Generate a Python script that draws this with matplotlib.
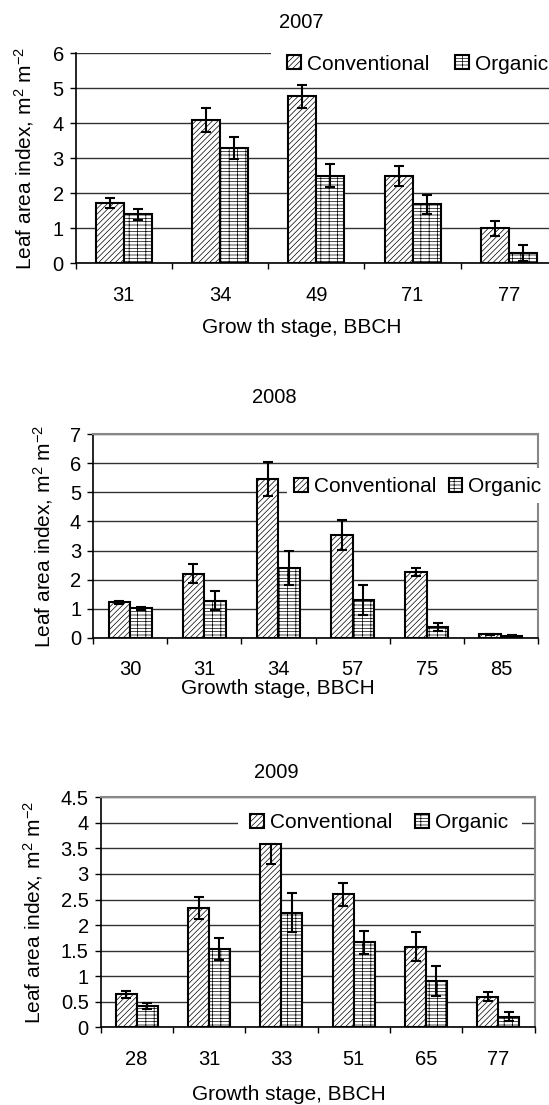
#! -*- coding: utf-8 -*-

#---------------------------------
# モジュールのインポート
#---------------------------------
import numpy as np
import matplotlib
matplotlib.use('Agg')
import matplotlib.pyplot as plt
from matplotlib.patches import Rectangle

#---------------------------------
# データ
#---------------------------------
stages_2007 = ['31', '34', '49', '71', '77']
conv_2007 = [1.72, 4.10, 4.77, 2.50, 1.00]
conv_err_2007 = [0.15, 0.34, 0.32, 0.28, 0.22]
org_2007 = [1.40, 3.29, 2.50, 1.68, 0.29]
org_err_2007 = [0.16, 0.32, 0.33, 0.28, 0.23]

stages_2008 = ['30', '31', '34', '57', '75', '85']
conv_2008 = [1.22, 2.20, 5.45, 3.54, 2.26, 0.12]
conv_err_2008 = [0.05, 0.33, 0.59, 0.52, 0.14, 0.02]
org_2008 = [1.01, 1.27, 2.41, 1.30, 0.36, 0.07]
org_err_2008 = [0.05, 0.33, 0.58, 0.52, 0.13, 0.02]

stages_2009 = ['28', '31', '33', '51', '65', '77']
conv_2009 = [0.65, 2.33, 3.58, 2.60, 1.58, 0.60]
conv_err_lo_2009 = [0.07, 0.22, 0.38, 0.22, 0.29, 0.09]
conv_err_hi_2009 = [0.07, 0.22, 0.00, 0.22, 0.29, 0.09]
org_2009 = [0.42, 1.53, 2.24, 1.66, 0.91, 0.21]
org_err_2009 = [0.06, 0.22, 0.38, 0.23, 0.29, 0.09]

#---------------------------------
# 定数定義
#---------------------------------
W = 549
H = 1105
FS_TICK = 14.5
FS_LABEL = 15
FS_TITLE = 14.5
FS_LEGEND = 15

plt.rcParams['font.family'] = ['Liberation Sans', 'DejaVu Sans']
plt.rcParams['mathtext.fontset'] = 'custom'
plt.rcParams['mathtext.rm'] = 'Liberation Sans'
plt.rcParams['mathtext.it'] = 'Liberation Sans:italic'
plt.rcParams['hatch.linewidth'] = 0.5


#---------------------------------
# 関数
#---------------------------------
def px_rect(left, top, right, bottom):
	# ピクセル座標 -> figure座標
	return [left / W, 1 - bottom / H, (right - left) / W, (bottom - top) / H]


def draw_panel(fig, rect, stages, conv, conv_err, org, org_err, ymax, ystep, frame,
			title, title_xy, xlabel, xlabel_xy, ylabel_x, legend_box, legend_xy, colsp):
	ax = fig.add_axes(px_rect(*rect))
	n = len(stages)
	x = np.arange(n) + 0.5
	w = 0.29

	ax.bar(x - w / 2, conv, w, facecolor='white', edgecolor='black', hatch='//////',
		linewidth=1.5, zorder=3, label='Conventional')
	ax.bar(x + w / 2, org, w, facecolor='white', edgecolor='black', hatch='-----||',
		linewidth=1.5, zorder=3, label='Organic')
	ax.errorbar(x - w / 2, conv, yerr=conv_err, fmt='none', ecolor='black',
		elinewidth=1.5, capsize=3.8, capthick=1.5, zorder=4)
	ax.errorbar(x + w / 2, org, yerr=org_err, fmt='none', ecolor='black',
		elinewidth=1.5, capsize=3.8, capthick=1.5, zorder=4)

	ax.set_xlim(0, n)
	ax.set_ylim(0, ymax)
	yt = np.arange(0, ymax + 1e-9, ystep)
	ax.set_yticks(yt)
	ax.set_yticklabels(['{:g}'.format(v) for v in yt], fontsize=FS_TICK)
	ax.set_xticks(np.arange(n + 1))
	ax.set_xticklabels([])
	ax.set_xticks(x, minor=True)
	ax.set_xticklabels(stages, minor=True, fontsize=FS_TICK)
	ax.tick_params(axis='x', which='major', direction='out', length=4, width=1, color='black')
	ax.tick_params(axis='x', which='minor', length=0, pad=16)
	ax.tick_params(axis='y', direction='out', length=4.5, width=1, pad=4)
	ax.grid(axis='y', color='#333333', linewidth=1.0, zorder=0)
	ax.set_axisbelow(True)

	ax.spines['left'].set_color('black')
	ax.spines['left'].set_linewidth(1.2)
	ax.spines['bottom'].set_color('black')
	ax.spines['bottom'].set_linewidth(1.2)
	if frame:
		for s in ['top', 'right']:
			ax.spines[s].set_color('#888888')
			ax.spines[s].set_linewidth(1.5)
	else:
		ax.spines['top'].set_visible(False)
		ax.spines['right'].set_visible(False)

	# 凡例の背景(白)
	l, t, r, b = legend_box
	ax.add_patch(Rectangle((l / W, 1 - b / H), (r - l) / W, (b - t) / H,
		transform=fig.transFigure, facecolor='white', edgecolor='none',
		clip_on=False, zorder=4.5))
	leg = ax.legend(loc='center left', bbox_to_anchor=(legend_xy[0] / W, 1 - legend_xy[1] / H),
		bbox_transform=fig.transFigure, ncol=2, frameon=False, fontsize=FS_LEGEND,
		handlelength=0.65, handleheight=0.65, handletextpad=0.3, columnspacing=colsp,
		borderpad=0, borderaxespad=0)
	leg.set_zorder(5)

	fig.text(title_xy[0] / W, 1 - title_xy[1] / H, title, ha='center', va='center', fontsize=FS_TITLE)
	fig.text(xlabel_xy[0] / W, 1 - xlabel_xy[1] / H, xlabel, ha='center', va='center', fontsize=FS_LABEL)
	fig.text(ylabel_x / W, 1 - (rect[1] + rect[3]) / 2 / H, 'Leaf area index, m$^2$ m$^{-2}$',
		rotation=90, ha='center', va='center', fontsize=FS_LABEL)
	return ax


def main():
	fig = plt.figure(figsize=(W / 100, H / 100), dpi=100)

	draw_panel(fig, (75.6, 53.3, 557, 263.3), stages_2007, conv_2007, conv_err_2007,
		org_2007, org_err_2007, 6, 1, False,
		'2007', (301, 23), 'Grow th stage, BBCH', (302, 327), 24,
		(271, 44, 560, 80), (287, 64), 1.25)

	draw_panel(fig, (93, 434.3, 538, 637.7), stages_2008, conv_2008, conv_err_2008,
		org_2008, org_err_2008, 7, 1, True,
		'2008', (274, 397), 'Growth stage, BBCH', (278, 688), 43,
		(287, 468, 548, 503), (294, 487), 0.6)

	draw_panel(fig, (100.5, 797.3, 534.5, 1027.3), stages_2009, conv_2009,
		[conv_err_lo_2009, conv_err_hi_2009], org_2009, org_err_2009, 4.5, 0.5, True,
		'2009', (276.5, 772), 'Growth stage, BBCH', (289, 1095), 33,
		(238, 810, 521.5, 837), (250, 823), 1.1)

	plt.savefig('out.png', dpi=100)
	plt.close()
	return


#---------------------------------
# メイン処理
#---------------------------------
if __name__ == '__main__':
	main()
